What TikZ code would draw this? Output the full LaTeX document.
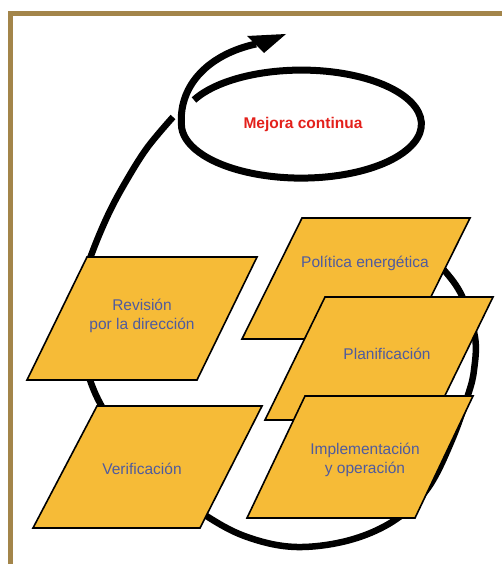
\documentclass[tikz,border=0pt]{standalone}
\usepackage{fontspec}
\setmainfont{Liberation Sans}
\definecolor{framebrown}{HTML}{A3854A}
\definecolor{boxfill}{HTML}{F6BB37}
\definecolor{txtblue}{HTML}{4F5B9E}
\definecolor{txtred}{HTML}{E3201B}
\tikzset{
  stepbox/.style={fill=boxfill,draw=black,line width=1.6pt,line join=miter},
  lbl/.style={text=txtblue,align=center,font=\fontsize{15.5}{19}\selectfont,inner sep=0pt},
  loopline/.style={line width=6.5pt,draw=black},
}
\begin{document}
\begin{tikzpicture}[x=1pt,y=-1pt]
\useasboundingbox (0,0) rectangle (502,564);
% frame
\draw[framebrown,line width=4.6pt] (10.5,564) -- (10.5,13.5) -- (502,13.5);
% big loop (behind boxes)
\draw[loopline] plot[smooth,tension=0.6] coordinates {
 (425,252) (444,270) (462,296) (475,337) (474,370) (468,395) (452,440) (428,488) (395,520) (350,540) (297,547) (250,538) (208,517) (150,475) (110,420) (90,380) (79,330) (80,290) (92,253) (108,215) (125,183) (147,148) (173,117)};
% boxes
\path[stepbox] (87,257) -- (257,257) -- (197,380) -- (27,380) -- cycle;
\path[stepbox] (97,406) -- (262,406) -- (200,528) -- (33,528) -- cycle;
\path[stepbox] (302,218) -- (470,218) -- (410,339) -- (242,339) -- cycle;
\path[stepbox] (325,297) -- (493,297) -- (433,420) -- (265,420) -- cycle;
\path[stepbox] (305,396) -- (473,396) -- (415,518) -- (247,518) -- cycle;
% labels
\node[lbl] (rev) at (142,316) {Revisión\\por la dirección};
\node[lbl] (ver) at (142,469) {Verificación};
\node[lbl] (pol) at (365,263) {Política energética};
\node[lbl] (pla) at (387,354) {Planificación};
\node[lbl] (imp) at (365,460) {Implementación\\y operación};
% ellipse spiral and arrow
\coordinate (es) at (194.0,100.0);
\draw[line width=7pt] (es) arc[start angle=206.5,end angle=540,x radius=120,y radius=54]
  .. controls (179,84) and (210,54) .. (256,44);
\fill (247,36) -- (286,34) -- (264,53) -- cycle;
\node[text=txtred,font=\bfseries\fontsize{15.5}{19}\selectfont,inner sep=0pt] (mej) at (303,124) {Mejora continua};
\end{tikzpicture}
\end{document}
